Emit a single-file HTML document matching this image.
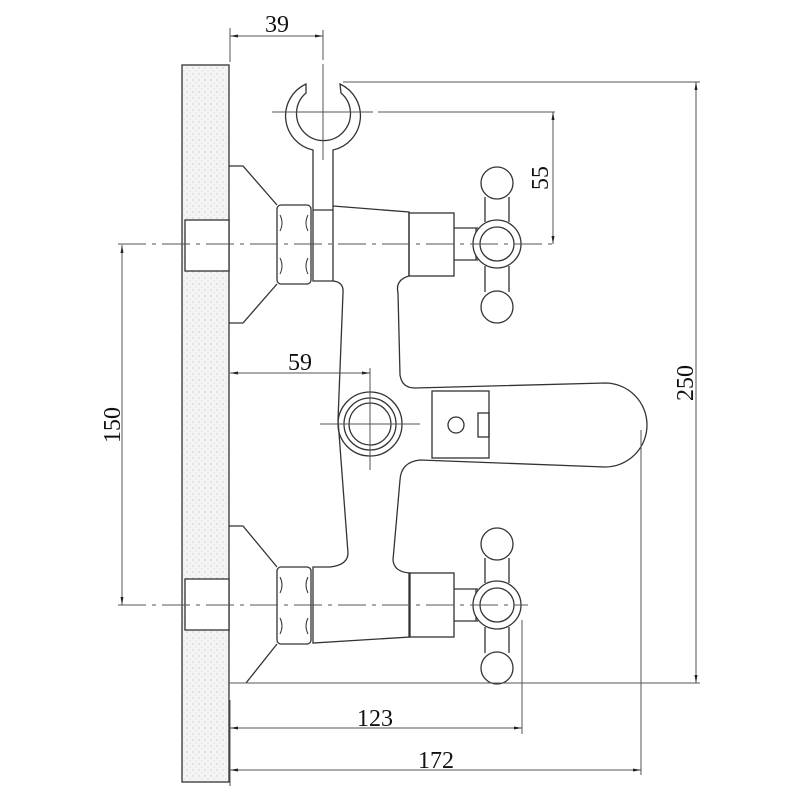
<!DOCTYPE html>
<html><head><meta charset="utf-8"><style>html,body{margin:0;padding:0;background:#fff}svg{display:block}</style></head>
<body>
<svg width="800" height="800" viewBox="0 0 800 800" xmlns="http://www.w3.org/2000/svg">
<defs>
<pattern id="sp" width="6" height="6" patternUnits="userSpaceOnUse">
<rect width="6" height="6" fill="#f4f4f4"/><circle cx="1" cy="2" r="0.6" fill="#bbb"/><circle cx="4" cy="5" r="0.5" fill="#c8c8c8"/>
</pattern>
<marker id="a" markerWidth="8" markerHeight="6" refX="8" refY="3" orient="auto-start-reverse" markerUnits="userSpaceOnUse"><path d="M0,1.5 L8,3 L0,4.5z" fill="#222"/></marker>
</defs>
<g fill="none" stroke="#333" stroke-width="1.3">
<!-- wall -->
<rect x="182" y="65" width="47" height="717" fill="url(#sp)"/>
<rect x="185" y="220" width="44" height="51" fill="#fff"/>
<rect x="185" y="579" width="44" height="51" fill="#fff"/>
<!-- upper flange -->
<path d="M229,166 H243 L277,205 M277,284 L243,323 H229"/>
<!-- lower flange -->
<path d="M229,526 H243 L277,567 M277,644 L246,683"/>
<!-- nuts -->
<rect x="277" y="205" width="34" height="79" rx="4"/>
<rect x="277" y="567" width="34" height="77" rx="4"/>
<path d="M280,215 q4,8 0,16 M280,258 q4,8 0,16 M308,215 q-4,8 0,16 M308,258 q-4,8 0,16" stroke-width="1"/>
<path d="M280,577 q4,8 0,16 M280,618 q4,8 0,16 M308,577 q-4,8 0,16 M308,618 q-4,8 0,16" stroke-width="1"/>
<!-- hook -->
<path d="M306,84 A35,35 0 0 0 313,150 V281 H333 V150 A35,35 0 0 0 340,84 L341,93 A27,27 0 1 1 306,93 Z"/>
<line x1="313" y1="210" x2="333" y2="210"/>
<!-- body -->
<path d="M333,206 L409,212 V276 Q395,280 398,293 L400,375 Q402,388 415,388 L605,383 A42,42 0 0 1 605,467 L420,460 Q401,462 400,480 L393,560 Q394,572 410,573 V637 L313,643 V567 H330 Q348,565 348,553 L338,420 L343,293 Q344,282 333,281"/>
<rect x="409" y="213" width="45" height="63"/>
<rect x="409" y="573" width="45" height="64"/>
<!-- spout block -->
<rect x="432" y="391" width="57" height="67"/>
<circle cx="456" cy="425" r="8"/>
<rect x="478" y="413" width="11" height="24"/>
<!-- diverter -->
<circle cx="370" cy="424" r="32"/><circle cx="370" cy="424" r="26"/><circle cx="370" cy="424" r="21"/>
<!-- handles -->
<g id="h">
<path d="M454,228 H478 M454,260 H478 M476,228 V260" />
<circle cx="497" cy="183" r="16"/>
<circle cx="497" cy="307" r="16"/>
<path d="M485,197 V222 M509,197 V222 M485,266 V292 M509,266 V292"/>
<circle cx="497" cy="244" r="24" fill="#fff"/>
<circle cx="497" cy="244" r="17"/>
</g>
<use href="#h" transform="translate(0,361)"/>
</g>
<!-- centre lines -->
<g stroke="#555" stroke-width="1" fill="none" stroke-dasharray="28,6,4,6">
<line x1="118" y1="244" x2="555" y2="244"/>
<line x1="118" y1="605" x2="528" y2="605"/>
</g>
<g stroke="#555" stroke-width="1" fill="none">
<line x1="272" y1="112" x2="373" y2="112"/><line x1="378" y1="112" x2="555" y2="112"/>
<line x1="323" y1="30" x2="323" y2="60"/><line x1="323" y1="64" x2="323" y2="160"/>
<line x1="320" y1="424" x2="420" y2="424"/><line x1="370" y1="368" x2="370" y2="470"/>
<line x1="230" y1="28" x2="230" y2="62"/>
<line x1="343" y1="82" x2="700" y2="82"/>
<line x1="229" y1="683" x2="700" y2="683"/>
<line x1="522" y1="620" x2="522" y2="734"/>
<line x1="641" y1="430" x2="641" y2="775"/>
<line x1="230" y1="786" x2="230" y2="700"/>
<!-- dimension lines -->
<line x1="230" y1="36" x2="323" y2="36" marker-start="url(#a)" marker-end="url(#a)"/>
<line x1="553" y1="112" x2="553" y2="244" marker-start="url(#a)" marker-end="url(#a)"/>
<line x1="696" y1="82" x2="696" y2="683" marker-start="url(#a)" marker-end="url(#a)"/>
<line x1="122" y1="245" x2="122" y2="605" marker-start="url(#a)" marker-end="url(#a)"/>
<line x1="230" y1="373" x2="370" y2="373" marker-start="url(#a)" marker-end="url(#a)"/>
<line x1="230" y1="728" x2="522" y2="728" marker-start="url(#a)" marker-end="url(#a)"/>
<line x1="230" y1="770" x2="641" y2="770" marker-start="url(#a)" marker-end="url(#a)"/>
</g>
<g font-family="Liberation Serif, serif" font-size="24" fill="#111" text-anchor="middle">
<text x="277" y="32">39</text>
<text x="300" y="370">59</text>
<text x="375" y="726">123</text>
<text x="436" y="768">172</text>
<text transform="translate(548,178) rotate(-90)">55</text>
<text transform="translate(693,383) rotate(-90)">250</text>
<text transform="translate(120,425) rotate(-90)">150</text>
</g>
</svg>
</body></html>
